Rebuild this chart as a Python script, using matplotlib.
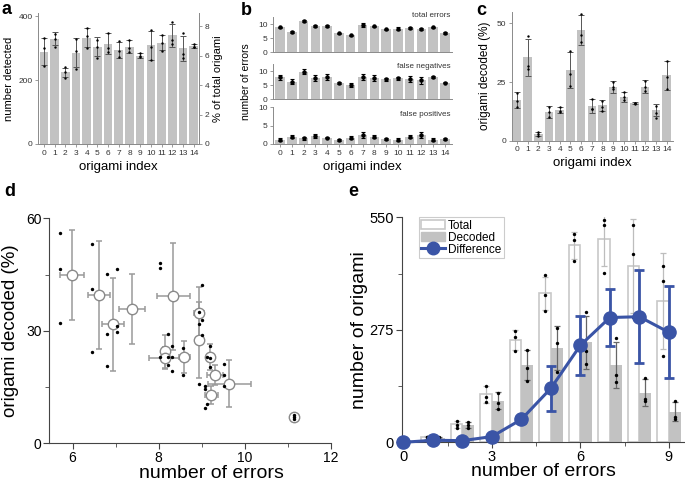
import matplotlib
matplotlib.use("Agg")
import matplotlib.pyplot as plt
from matplotlib.patches import Patch
from matplotlib.lines import Line2D
from matplotlib.ticker import MultipleLocator
import numpy as np

plt.rcParams['font.family'] = ['Liberation Sans', 'DejaVu Sans']

# ---- data ----
origami_idx = list(range(15))

# a: number detected per origami
a_counts = [289, 329, 224, 286, 333, 304, 314, 295, 304, 276, 309, 317, 340, 299, 307]
a_err = [43, 20, 15, 45, 30, 30, 32, 25, 20, 8, 46, 24, 37, 40, 5]
a_reps = [[331, 302, 245], [343, 329, 305], [240, 224, 207], [328, 291, 235],
          [364, 338, 299], [325, 304, 268], [348, 302, 289], [322, 291, 271],
          [326, 302, 288], [284, 276, 273], [356, 304, 263], [340, 317, 291],
          [382, 325, 312], [346, 283, 268], [312, 305, 304]]
total_origami = 4613

# b: errors per origami
b_total = [8.8, 7.3, 11.2, 9.3, 9.3, 6.7, 6.0, 9.6, 9.2, 8.1, 8.4, 8.6, 8.2, 8.9, 6.9]
b_total_err = [0.3, 0.4, 0.3, 0.3, 0.3, 0.3, 0.3, 0.7, 0.2, 0.2, 0.5, 0.2, 0.4, 0.2, 0.3]
b_fn = [7.8, 6.2, 9.8, 7.5, 7.9, 5.8, 4.9, 8.0, 7.5, 7.1, 7.4, 7.2, 6.7, 8.0, 5.9]
b_fn_err = [0.8, 0.9, 0.9, 1.0, 1.0, 0.3, 0.7, 1.0, 1.0, 0.6, 0.6, 1.2, 1.3, 0.4, 0.3]
b_fp = [1.1, 2.0, 1.5, 2.2, 1.7, 1.1, 1.7, 2.5, 2.0, 1.4, 1.2, 2.0, 2.4, 1.2, 1.3]
b_fp_err = [0.4, 0.5, 0.3, 0.5, 0.2, 0.2, 0.4, 0.8, 0.5, 0.3, 0.3, 0.4, 0.8, 0.4, 0.2]

# c: percent decoded per origami
c_vals = [17.3, 35.5, 2.8, 12.2, 13.1, 30.1, 47.2, 14.8, 15.1, 22.9, 18.6, 16.2, 23.0, 13.1, 27.8]
c_err = [3.3, 8.0, 1.0, 2.6, 1.4, 7.8, 6.3, 3.1, 2.3, 2.4, 2.1, 0.4, 2.8, 2.6, 6.3]
c_reps = [[20.5, 17.0, 14.5], [44.6, 31.8, 30.4], [3.5, 2.7, 2.0], [14.5, 12.2, 10.2],
          [14.2, 12.6, 12.2], [38.2, 28.4, 23.4], [54.0, 45.2, 42.2], [17.8, 13.6, 13.4],
          [16.9, 14.5, 12.8], [25.1, 22.7, 21.9], [20.6, 18.6, 17.2], [16.2, 15.9, 15.8],
          [25.6, 22.7, 21.4], [14.8, 11.9, 9.8], [34.1, 27.0, 21.9]]

# d: decoded vs errors
d_x = [5.99, 6.62, 6.94, 7.38, 8.34, 8.15, 8.15, 8.59, 8.94, 8.94, 9.19, 9.31, 9.64, 9.22, 11.14]
d_y = [44.8, 39.5, 31.7, 35.8, 39.2, 24.5, 22.7, 23.0, 34.7, 27.6, 23.0, 18.3, 15.9, 12.9, 7.1]
d_xerr = [0.27, 0.25, 0.26, 0.31, 0.39, 0.05, 0.37, 0.13, 0.12, 0.03, 0.05, 0.19, 0.50, 0.15, 0.03]
d_yerr = [12.0, 14.4, 12.4, 9.3, 14.2, 4.4, 3.0, 4.3, 7.0, 10.2, 3.4, 2.7, 6.3, 2.5, 0.8]
d_dot_x = [5.70, 5.70, 5.70, 6.44, 6.44, 6.44, 6.79, 6.79, 6.79, 7.04, 7.04, 7.04,
           8.04, 8.04, 8.04, 8.21, 8.21, 8.21, 8.30, 8.30, 8.30, 8.56, 8.56,
           9.00, 8.93, 9.00, 8.93, 9.00, 8.93, 9.08, 9.08, 9.11, 9.08,
           9.19, 9.11, 9.19, 9.19, 9.51, 9.51, 9.51, 11.14, 11.14, 11.14]
d_dot_y = [56.0, 46.6, 32.1, 53.1, 41.1, 24.3, 45.1, 29.2, 20.7, 46.4, 31.4, 29.6,
           48.0, 46.8, 22.9, 29.2, 22.9, 21.0, 25.9, 22.9, 19.4, 25.3, 18.3,
           42.3, 34.9, 33.0, 31.9, 28.9, 15.9, 15.2, 14.4, 10.6, 9.4,
           26.0, 23.0, 22.7, 20.4, 21.1, 18.1, 15.4, 7.5, 6.6, 7.0]

# e: histogram of errors
e_errors = list(range(10))
e_total = [2, 12, 44, 117, 250, 364, 482, 496, 432, 346]
e_total_err = [1, 3, 8, 20, 25, 40, 33, 65, 115, 117]
e_total_reps = [[2, 2, 2], [14, 12, 9], [53, 42, 34], [138, 110, 99], [273, 258, 223],
                [408, 361, 321], [508, 495, 443], [543, 530, 415], [530, 460, 307],
                [431, 395, 212]]
e_decoded = [1, 10, 42, 102, 189, 230, 244, 189, 121, 75]
e_decoded_err = [1, 3, 7, 20, 37, 54, 65, 57, 33, 24]
e_decoded_reps = [[1, 1, 1], [12, 10, 8], [49, 42, 34], [120, 95, 81], [226, 181, 151],
                  [279, 242, 171], [318, 224, 191], [254, 165, 147], [158, 105, 101],
                  [101, 63, 57]]
e_diff = [0, 5, 4, 14, 56, 132, 237, 305, 307, 269]
e_diff_err = [1, 3, 3, 5, 8, 55, 72, 69, 113, 112]

BAR = '#c2c2c2'
BLUE = '#3a54a6'
W, H = 685, 484


def rect(x0, y0, x1, y1):
    # pixel box, origin top-left -> figure fraction
    return [x0 / W, 1 - y1 / H, (x1 - x0) / W, (y1 - y0) / H]


def small_style(ax, right=False):
    for s in ['top'] + ([] if right else ['right']):
        ax.spines[s].set_visible(False)
    for s in ax.spines.values():
        s.set_color('#8a8a8a')
        s.set_linewidth(0.7)
    ax.tick_params(labelsize=6, length=2.5, width=0.6, color='#8a8a8a',
                   labelcolor='#333333', pad=1.5)


def big_style(ax, labelsize):
    for s in ['top', 'right']:
        ax.spines[s].set_visible(False)
    for s in ax.spines.values():
        s.set_color('#444444')
    ax.tick_params(which='major', labelsize=labelsize, length=4.5, color='#444444', pad=1)
    ax.tick_params(which='minor', length=3, color='#444444')


fig = plt.figure(figsize=(6.85, 4.84), dpi=100)

# ---- a ----
ax = fig.add_axes(rect(38, 13, 199, 144))
ax.bar(origami_idx, a_counts, width=0.8, color=BAR, zorder=1)
ax.errorbar(origami_idx, a_counts, yerr=a_err, fmt='none', ecolor='#555555',
            elinewidth=0.7, capsize=2, capthick=0.7, zorder=2)
for i, reps in enumerate(a_reps):
    ax.scatter([i] * len(reps), reps, s=3, c='k', zorder=3, linewidths=0)
ax.set_xlim(-0.55, 14.5)
ax.set_ylim(0, 410)
ax.set_yticks([0, 200, 400])
ax.set_xticks(origami_idx)
small_style(ax, right=True)
ax.set_xlabel('origami index', fontsize=9.5, labelpad=3)
ax.set_ylabel('number detected', fontsize=8, labelpad=3)
ax2 = ax.twinx()
ax2.set_ylim(0, 410 * 100 / total_origami)
ax2.set_yticks([0, 2, 4, 6, 8])
small_style(ax2, right=True)
ax2.spines['left'].set_visible(False)
ax2.set_ylabel('% of total origami', fontsize=8, labelpad=3)

# ---- b ----
b_sets = [(b_total, b_total_err, 'total errors', (273, 17, 452, 52.3), 12.5, 1.0),
          (b_fn, b_fn_err, 'false negatives', (273, 64, 452, 99.3), 12.5, 0.88),
          (b_fp, b_fp_err, 'false positives', (273, 107.3, 452, 144), 10, 0.76)]
for k, (vals, errs, name, box, top, ty) in enumerate(b_sets):
    ax = fig.add_axes(rect(*box))
    ax.bar(origami_idx, vals, width=0.8, color=BAR, zorder=1)
    ax.errorbar(origami_idx, vals, yerr=errs, fmt='o', color='k', ms=2.2,
                elinewidth=0.8, capsize=1.5, capthick=0.8, zorder=3)
    ax.set_xlim(-0.6, 14.6)
    ax.set_ylim(0, top)
    ax.set_yticks([0, 5, 10])
    ax.set_xticks(origami_idx)
    small_style(ax)
    if k < 2:
        ax.tick_params(axis='x', length=0, labelbottom=False)
    ax.text(0.99, ty, name, transform=ax.transAxes, ha='right', va='baseline',
            fontsize=5.8, color='#333333')
    if k == 1:
        ax.set_ylabel('number of errors', fontsize=7.5, labelpad=5)
    if k == 2:
        ax.set_xlabel('origami index', fontsize=9.5, labelpad=3)

# ---- c ----
ax = fig.add_axes(rect(511.7, 11.7, 673, 140.7))
ax.bar(origami_idx, c_vals, width=0.8, color=BAR, zorder=1)
ax.errorbar(origami_idx, c_vals, yerr=c_err, fmt='none', ecolor='#555555',
            elinewidth=0.7, capsize=2, capthick=0.7, zorder=2)
for i, reps in enumerate(c_reps):
    ax.scatter([i] * len(reps), reps, s=3, c='k', zorder=3, linewidths=0)
ax.set_xlim(-0.5, 14.6)
ax.set_ylim(0, 55)
ax.set_yticks([0, 25, 50])
ax.set_xticks(origami_idx)
small_style(ax)
ax.set_xlabel('origami index', fontsize=9.5, labelpad=3)
ax.set_ylabel('origami decoded (%)', fontsize=8.5, labelpad=4)

# ---- d ----
ax = fig.add_axes(rect(49.3, 218.3, 331, 443.3))
ax.errorbar(d_x, d_y, xerr=d_xerr, yerr=d_yerr, fmt='none', ecolor='#9a9a9a',
            elinewidth=1.1, capsize=2.5, capthick=1.1, zorder=1)
ax.plot(d_x, d_y, 'o', ms=7.5, mfc='white', mec='#8a8a8a', mew=1.0, ls='none', zorder=2)
ax.scatter(d_dot_x, d_dot_y, s=6, c='k', zorder=3, linewidths=0)
ax.set_xlim(5.46, 12)
ax.set_ylim(0, 60)
ax.set_xticks([6, 8, 10, 12])
ax.set_yticks([0, 30, 60])
ax.xaxis.set_minor_locator(MultipleLocator(1))
ax.yaxis.set_minor_locator(MultipleLocator(15))
big_style(ax, 10)
ax.set_xlabel('number of errors', fontsize=14)
ax.xaxis.set_label_coords(0.574, -0.097)
ax.set_ylabel('origami decoded (%)', fontsize=13.5)
ax.yaxis.set_label_coords((19 - 49.3) / 281.7, 0.5)

# ---- e ----
ax = fig.add_axes(rect(401.7, 217.3, 685, 442.3))
xs = np.array(e_errors)
ax.bar(xs - 0.2, e_total, width=0.4, color='white', edgecolor='#c8c8c8', lw=1.2, zorder=1)
ax.bar(xs + 0.2, e_decoded, width=0.4, color=BAR, zorder=1)
ax.errorbar(xs - 0.2, e_total, yerr=e_total_err, fmt='none', ecolor='#bdbdbd',
            elinewidth=0.9, capsize=2.5, capthick=0.9, zorder=2)
ax.errorbar(xs + 0.2, e_decoded, yerr=e_decoded_err, fmt='none', ecolor='#666666',
            elinewidth=0.9, capsize=2.5, capthick=0.9, zorder=2)
for x, reps in zip(xs, e_total_reps):
    ax.scatter([x - 0.2] * 3, reps, s=6, c='k', zorder=3, linewidths=0)
for x, reps in zip(xs, e_decoded_reps):
    ax.scatter([x + 0.2] * 3, reps, s=6, c='k', zorder=3, linewidths=0)
ax.errorbar(xs, e_diff, yerr=e_diff_err, fmt='-o', color=BLUE, lw=2.2, ms=9.5,
            elinewidth=2, capsize=3.5, capthick=2, zorder=4, clip_on=False)
ax.set_xlim(-0.06, 9.55)
ax.set_ylim(0, 550)
ax.set_xticks([0, 3, 6, 9])
ax.set_yticks([0, 275, 550])
ax.xaxis.set_minor_locator(MultipleLocator(1.5))
ax.yaxis.set_minor_locator(MultipleLocator(137.5))
big_style(ax, 10.5)
ax.set_xlabel('number of errors', fontsize=14, labelpad=-1)
ax.set_ylabel('number of origami', fontsize=14)
ax.yaxis.set_label_coords((367.7 - 401.7) / 283.3, 0.5)
handles = [Patch(facecolor='white', edgecolor='#c8c8c8', lw=1.2),
           Patch(facecolor=BAR, edgecolor=BAR),
           Line2D([], [], color=BLUE, lw=2.2, marker='o', ms=9)]
leg = ax.legend(handles, ['Total', 'Decoded', 'Difference'], loc='upper left',
                bbox_to_anchor=(0.06, 1.0), borderaxespad=0, fontsize=8.5,
                fancybox=False, framealpha=1, edgecolor='#cccccc',
                handlelength=2.0, handleheight=0.9, handletextpad=0.3,
                labelspacing=0.0, borderpad=0.2)
leg.get_frame().set_linewidth(0.8)

# ---- panel letters ----
for letter, (px, py) in {'a': (2, 14), 'b': (241, 15), 'c': (476, 15),
                         'd': (4, 196), 'e': (348, 196)}.items():
    fig.text(px / W, 1 - py / H, letter, fontsize=13, fontweight='bold', va='baseline')

fig.savefig('out.png', dpi=100)
